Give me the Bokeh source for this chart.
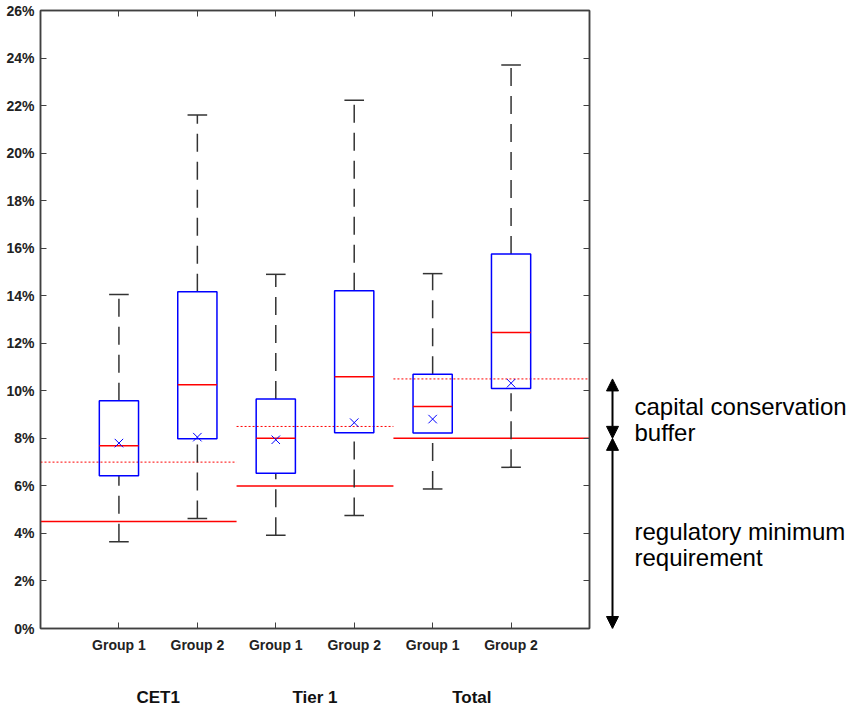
from bokeh.plotting import figure
from bokeh.models import (Range1d, LinearAxis, FixedTicker, PrintfTickFormatter,
                          CustomJSTickFormatter, Arrow, NormalHead, Label, ColumnDataSource)
from bokeh.layouts import row
from bokeh.embed import file_html
from bokeh.resources import INLINE

# ---- data ----
categories = ["CET1", "Tier 1", "Total"]
groups = ["Group 1", "Group 2"]
whisker_low = [3.65, 4.63, 3.92, 4.75, 5.87, 6.78]
q1 = [6.43, 7.98, 6.53, 8.24, 8.22, 10.10]
median = [7.69, 10.25, 8.00, 10.59, 9.34, 12.45]
q3 = [9.58, 14.17, 9.66, 14.21, 10.70, 15.76]
whisker_high = [14.05, 21.60, 14.90, 22.22, 14.93, 23.71]
mean = [7.80, 8.05, 7.94, 8.66, 8.81, 10.32]
minimum_req = [4.5, 6.0, 8.0]
buffer_req = [7.0, 8.5, 10.5]
y_ticks = list(range(0, 27, 2))

# ---- derived layout ----
n = len(whisker_low)
pos = [i + 1 for i in range(n)]
box_w = 0.5
cap_w = 0.25
tick_labels = {p_: groups[i % 2] for i, p_ in enumerate(pos)}
cat_pos = [1.5 + 2 * i for i in range(len(categories))]
cat_labels = {c: categories[i] for i, c in enumerate(cat_pos)}

src = ColumnDataSource(dict(
    x=pos, lo=whisker_low, q1=q1, med=median, q3=q3, hi=whisker_high, mean=mean,
    left=[x - box_w / 2 for x in pos], right=[x + box_w / 2 for x in pos],
    cl=[x - cap_w / 2 for x in pos], cr=[x + cap_w / 2 for x in pos],
))

ref_left = [0, 2.5, 4.5]
ref_right = [2.5, 4.5, 7]
ref = ColumnDataSource(dict(x0=ref_left, x1=ref_right, mn=minimum_req, buf=buffer_req))

AX = "#404040"
FONT = "Liberation Sans"
blank = CustomJSTickFormatter(code="return ''")

yr = Range1d(0, 26)
p = figure(width=591, height=709, x_range=Range1d(0, 7), y_range=yr,
           output_backend="svg", toolbar_location=None,
           min_border_left=40, min_border_right=2, min_border_top=10, min_border_bottom=80)
p.xgrid.visible = False
p.ygrid.visible = False
p.outline_line_color = AX
p.outline_line_width = 1.5

# bottom axis (groups)
xa = p.xaxis[0]
xa.ticker = FixedTicker(ticks=pos)
xa.major_label_overrides = tick_labels
xa.major_tick_in = 6
xa.major_tick_out = 0
xa.minor_tick_line_color = None
xa.axis_line_color = AX
xa.axis_line_width = 1.5
xa.major_tick_line_color = AX
xa.major_label_text_font = FONT
xa.major_label_text_font_style = "bold"
xa.major_label_text_font_size = "14px"
xa.major_label_text_color = "#222222"
xa.major_label_standoff = 8

# left axis
ya = p.yaxis[0]
ya.ticker = FixedTicker(ticks=y_ticks)
ya.formatter = PrintfTickFormatter(format="%d%%")
ya.major_tick_in = 6
ya.major_tick_out = 0
ya.minor_tick_line_color = None
ya.axis_line_color = AX
ya.axis_line_width = 1.5
ya.major_tick_line_color = AX
ya.major_label_text_font = FONT
ya.major_label_text_font_style = "bold"
ya.major_label_text_font_size = "14px"
ya.major_label_text_color = "#222222"
ya.major_label_standoff = 6

# category axis
ca = LinearAxis(ticker=FixedTicker(ticks=cat_pos), major_label_overrides=cat_labels,
                axis_line_color=None, major_tick_line_color=None, minor_tick_line_color=None,
                major_label_text_font=FONT, major_label_text_font_style="bold",
                major_label_text_font_size="17px", major_label_text_color="#111111",
                major_label_standoff=26)
p.add_layout(ca, "below")

# top axis (ticks only)
ta = LinearAxis(ticker=FixedTicker(ticks=pos), formatter=blank, major_tick_in=6,
                major_tick_out=0, minor_tick_line_color=None, axis_line_color=AX,
                axis_line_width=1.5, major_tick_line_color=AX, major_label_standoff=0)
p.add_layout(ta, "above")

# right axis (ticks only)
ra = LinearAxis(ticker=FixedTicker(ticks=y_ticks), formatter=blank, major_tick_in=6,
                major_tick_out=0, minor_tick_line_color=None, axis_line_color=AX,
                axis_line_width=1.5, major_tick_line_color=AX, major_label_standoff=0)
p.add_layout(ra, "right")

# reference lines
p.segment(x0="x0", x1="x1", y0="mn", y1="mn", source=ref, line_color="#ff0000", line_width=1.5)
p.segment(x0="x0", x1="x1", y0="buf", y1="buf", source=ref, line_color="#ff0000",
          line_width=1, line_dash="2 2")

# whiskers
WH = "#333333"
p.segment(x0="x", x1="x", y0="q3", y1="hi", source=src, line_color=WH, line_width=1.5,
          line_dash="18 10")
p.segment(x0="x", x1="x", y0="lo", y1="q1", source=src, line_color=WH, line_width=1.5,
          line_dash="18 10")
p.segment(x0="cl", x1="cr", y0="hi", y1="hi", source=src, line_color=WH, line_width=1.5)
p.segment(x0="cl", x1="cr", y0="lo", y1="lo", source=src, line_color=WH, line_width=1.5)

# boxes
p.quad(left="left", right="right", bottom="q1", top="q3", source=src,
       fill_color=None, line_color="#0000ff", line_width=1.5)
p.segment(x0="left", x1="right", y0="med", y1="med", source=src, line_color="#ff0000",
          line_width=1.5)
p.scatter(x="x", y="mean", source=src, marker="x", size=12, line_color="#0000ff",
          line_width=1)

# ---- annotation panel on the right ----
p2 = figure(width=256, height=709, x_range=Range1d(0, 256), y_range=yr,
            output_backend="svg", toolbar_location=None,
            x_axis_location=None, y_axis_location=None,
            min_border_left=0, min_border_right=0, min_border_top=10, min_border_bottom=80)
p2.xgrid.visible = False
p2.ygrid.visible = False
p2.outline_line_color = None

ax_x = 21
head = dict(size=12, fill_color="black", line_color="black")
p2.add_layout(Arrow(x_start=ax_x, y_start=minimum_req[2], x_end=ax_x, y_end=buffer_req[2],
                    start=NormalHead(**head), end=NormalHead(**head),
                    line_color="black", line_width=2))
p2.add_layout(Arrow(x_start=ax_x, y_start=0, x_end=ax_x, y_end=minimum_req[2],
                    start=NormalHead(**head), end=NormalHead(**head),
                    line_color="black", line_width=2))

lab = dict(text_font=FONT, text_font_size="24px", text_color="black",
           text_baseline="alphabetic", text_align="left")
for txt, yy in [("capital conservation", 9.32), ("buffer", 8.23),
                ("regulatory minimum", 4.09), ("requirement", 2.98)]:
    p2.add_layout(Label(x=43, y=yy, text=txt, **lab))

open("out.html", "w").write(file_html(row(p, p2), INLINE))
